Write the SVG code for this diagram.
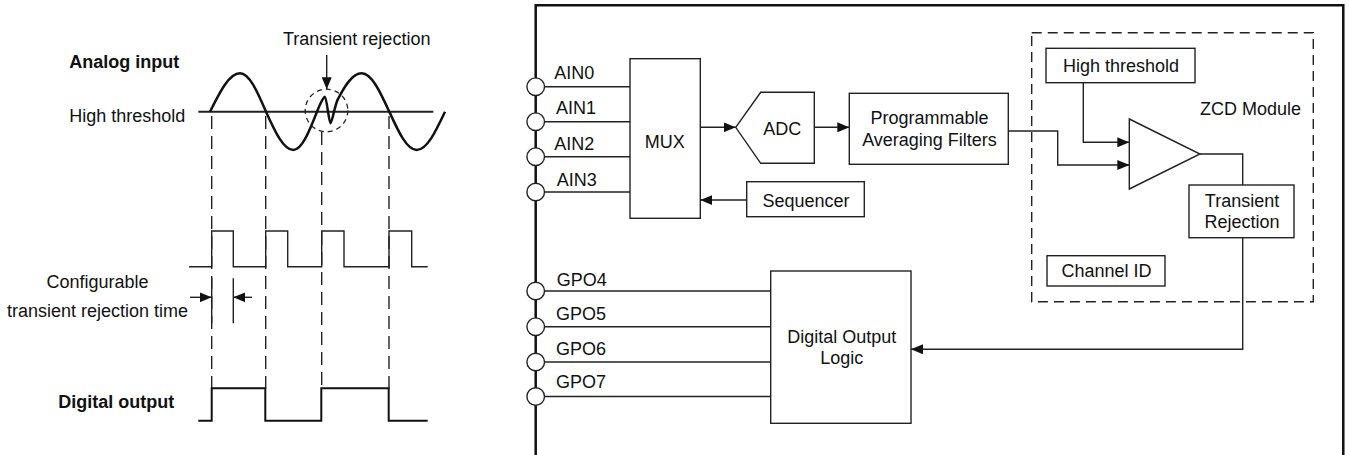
<svg xmlns="http://www.w3.org/2000/svg" width="1349" height="455" viewBox="0 0 1349 455">
<style>
text{font-family:"Liberation Sans",Arial,sans-serif;font-size:18px;fill:#111}
.b{font-weight:bold}
.m{text-anchor:middle}
.box{fill:#fff;stroke:#222;stroke-width:1.4}
.ln{fill:none;stroke:#222;stroke-width:1.4}
.arr{fill:none;stroke:#222;stroke-width:1.4;marker-end:url(#ah)}
.dash{fill:none;stroke:#222;stroke-width:1.4;stroke-dasharray:13,7}
.pin{fill:#fff;stroke:#222;stroke-width:1.4}
</style>
<defs>
<marker id="ah" markerUnits="userSpaceOnUse" markerWidth="12" markerHeight="10" refX="12" refY="5" orient="auto">
<path d="M0,0 L12,5 L0,10 z" fill="#111"/>
</marker>
</defs>

<g id="timing">
<text x="283" y="45">Transient rejection</text>
<text class="b" x="69.3" y="68.3">Analog input</text>
<text x="69.3" y="121.7">High threshold</text>
<line x1="198.3" y1="111.7" x2="433.3" y2="111.7" stroke="#222" stroke-width="2"/>
<path d="M210,111.7 C220,91.6 229.2,73.3 240,73.3 C249.4,73.3 257.3,91.6 266,111.7 C275.1,131.8 283.5,150 293.3,150 C301.8,150 309.1,131.8 317,111.7 C319.5,105.3 323.5,96.7 325,96.7 C326.5,96.7 329,123.3 330.5,123.3 C332,123.3 335,104 338,99 C341,94 350,73.3 361.7,73.3 C371.6,73.3 380.1,91.6 389.3,111.7 C398.5,131.8 406.8,150 416.7,150 C426.9,150 435.5,131.8 445,111.7" fill="none" stroke="#111" stroke-width="2.5"/>
<circle cx="326.5" cy="110.5" r="21.3" fill="none" stroke="#222" stroke-width="1.3" stroke-dasharray="5,4"/>
<line x1="326.7" y1="55" x2="326.7" y2="89.3" class="arr"/>
<line class="dash" x1="211.7" y1="116" x2="211.7" y2="388.3"/>
<line class="dash" x1="265.7" y1="116" x2="265.7" y2="388.3"/>
<line class="dash" x1="321.7" y1="132" x2="321.7" y2="388.3"/>
<line class="dash" x1="389" y1="116" x2="389" y2="388.3"/>
<path class="ln" d="M189,266.7 H211.7 V231 H233.3 V266.7 H265.7 V231 H287.7 V266.7 H321.7 V231 H344 V266.7 H389 V231 H411.7 V266.7 H427.7" stroke-width="1.6"/>
<text class="m" x="97.5" y="288.3">Configurable</text>
<text class="m" x="97.5" y="316.7">transient rejection time</text>
<line class="ln" x1="211.7" y1="278.3" x2="211.7" y2="323.3"/>
<line class="ln" x1="233.3" y1="278.3" x2="233.3" y2="323.3"/>
<line class="arr" x1="190" y1="297.3" x2="211.7" y2="297.3"/>
<line class="arr" x1="252" y1="297.3" x2="233.3" y2="297.3"/>
<text class="b" x="58.3" y="408.3">Digital output</text>
<path d="M198.3,420.7 H211.7 V388.3 H265.3 V420.7 H321.3 V388.3 H388.7 V420.7 H427.7" fill="none" stroke="#111" stroke-width="2"/>
</g>

<g id="chip">
<path d="M535.7,456 V5.3 H1343.3 V456" fill="none" stroke="#111" stroke-width="2.5"/>
</g>

<g id="zcd-module">
<rect x="1031.7" y="32.7" width="281.6" height="269" fill="none" stroke="#222" stroke-width="1.4" stroke-dasharray="10,6"/>
<text x="1200" y="115">ZCD Module</text>
</g>

<g id="connectors">
<line class="ln" x1="544" y1="86.7" x2="630" y2="86.7"/>
<line class="ln" x1="544" y1="121.7" x2="630" y2="121.7"/>
<line class="ln" x1="544" y1="156.7" x2="630" y2="156.7"/>
<line class="ln" x1="544" y1="192" x2="630" y2="192"/>
<line class="ln" x1="544" y1="291" x2="770.7" y2="291"/>
<line class="ln" x1="544" y1="326.7" x2="770.7" y2="326.7"/>
<line class="ln" x1="544" y1="362" x2="770.7" y2="362"/>
<line class="ln" x1="544" y1="396.5" x2="770.7" y2="396.5"/>
<line class="arr" x1="700.3" y1="127.3" x2="735.7" y2="127.3"/>
<line class="arr" x1="814.3" y1="127.3" x2="849.3" y2="127.3"/>
<line class="arr" x1="746.7" y1="200" x2="700.3" y2="200"/>
<path class="arr" d="M1083.3,82.7 V142.3 H1129.3"/>
<path class="arr" d="M1008.3,131 H1057.7 V165 H1129.3"/>
<path class="ln" d="M1200,154 H1242.7 V185"/>
<path class="arr" d="M1242.7,237.7 V349.3 H911"/>
</g>

<g id="pins">
<circle class="pin" cx="535.7" cy="86.7" r="8.8"/>
<circle class="pin" cx="535.7" cy="121.7" r="8.8"/>
<circle class="pin" cx="535.7" cy="156.7" r="8.8"/>
<circle class="pin" cx="535.7" cy="192" r="8.8"/>
<circle class="pin" cx="535.7" cy="291" r="8.8"/>
<circle class="pin" cx="535.7" cy="326.7" r="8.8"/>
<circle class="pin" cx="535.7" cy="362" r="8.8"/>
<circle class="pin" cx="535.7" cy="396.5" r="8.8"/>
<text x="554.3" y="79">AIN0</text>
<text x="556" y="114.3">AIN1</text>
<text x="554.3" y="150">AIN2</text>
<text x="556.7" y="185.7">AIN3</text>
<text x="556.7" y="286">GPO4</text>
<text x="556" y="320">GPO5</text>
<text x="556" y="355">GPO6</text>
<text x="556" y="387.7">GPO7</text>
</g>

<g id="mux">
<rect class="box" x="630" y="58.7" width="70.3" height="159.6"/>
<text class="m" x="664.7" y="147.7">MUX</text>
</g>

<g id="adc">
<path class="box" d="M735.7,127.3 L760.7,92.3 H814.3 V163.3 H760.7 Z"/>
<text class="m" x="782.2" y="135">ADC</text>
</g>

<g id="filters">
<rect class="box" x="849.3" y="93.3" width="159" height="71"/>
<text class="m" x="929.5" y="124">Programmable</text>
<text class="m" x="929.5" y="145.7">Averaging Filters</text>
</g>

<g id="sequencer">
<rect class="box" x="746.7" y="181.7" width="117.6" height="35"/>
<text class="m" x="806" y="206.5">Sequencer</text>
</g>

<g id="high-threshold">
<rect class="box" x="1046" y="48.3" width="149" height="34.4"/>
<text class="m" x="1121" y="72.3">High threshold</text>
</g>

<g id="comparator">
<path class="box" d="M1129.3,119 L1200,154 L1129.3,189 Z"/>
</g>

<g id="transient-rejection">
<rect class="box" x="1189" y="185" width="105" height="52.7"/>
<text class="m" x="1242" y="206.7">Transient</text>
<text class="m" x="1242" y="227.7">Rejection</text>
</g>

<g id="channel-id">
<rect class="box" x="1047" y="255.7" width="118" height="30.3"/>
<text class="m" x="1106.5" y="277.3">Channel ID</text>
</g>

<g id="digital-output-logic">
<rect class="box" x="770.7" y="271" width="140.3" height="152.3"/>
<text class="m" x="841.7" y="343.3">Digital Output</text>
<text class="m" x="841.7" y="364">Logic</text>
</g>
</svg>
